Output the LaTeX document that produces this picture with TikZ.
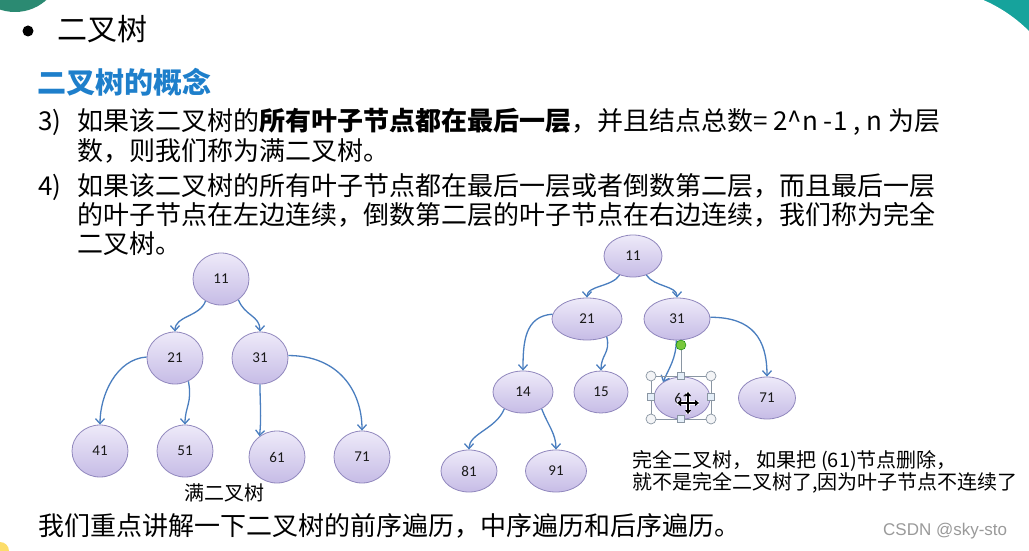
\documentclass[tikz,border=0pt]{standalone}
\usepackage{fontspec}
\setmainfont{Noto Sans CJK SC}
\newfontfamily\numfont{Carlito}
\newfontfamily\csdnfont{Liberation Sans}
\usetikzlibrary{shapes.geometric,arrows.meta}
\definecolor{nodetop}{HTML}{EEEAF9}
\definecolor{nodebot}{HTML}{C6BCE6}
\definecolor{nodeborder}{HTML}{9087BD}
\definecolor{arrowblue}{HTML}{4A7EBF}
\definecolor{subblue}{HTML}{1E7FCB}
\definecolor{tealTL}{HTML}{2B8A72}
\definecolor{tealTR}{HTML}{16A39C}
\definecolor{hgray}{HTML}{8A96A3}
\definecolor{hsq}{HTML}{E4EEF8}
\definecolor{hgreen}{HTML}{78C83C}
\definecolor{csdngray}{HTML}{9A9A9A}
\begin{document}
\begin{tikzpicture}[x=1pt,y=-1pt,
  tn/.style={ellipse, draw=nodeborder, line width=0.8pt, top color=nodetop, bottom color=nodebot,
    inner sep=0pt, font=\numfont\fontsize{15}{17}\selectfont, text=black!90},
  lt/.style={tn, minimum width=56pt, minimum height=52pt},
  rt/.style={tn, minimum height=42pt},
  arr/.style={draw=arrowblue, line width=1.3pt, -{Straight Barb[length=5pt,width=9pt]}},
  txt/.style={anchor=base west, inner sep=0pt},
  body/.style={font=\fontsize{26}{30}\selectfont},
  captext/.style={font=\fontsize{20}{24}\selectfont},
  corner/.style={circle, draw=hgray, fill=white!90!hgray, line width=0.7pt, minimum size=10pt, inner sep=0pt},
  side/.style={rectangle, draw=hgray, fill=hsq, line width=0.7pt, minimum size=7.5pt, inner sep=0pt},
]
\useasboundingbox (0,0) rectangle (1029,551);
\fill[white] (0,0) rectangle (1029,551);
% decorative corners
\begin{scope}
  \clip (0,0) rectangle (1029,551);
  \fill[tealTL] (15,-35) circle (47);
  \fill[tealTR] (900,0) rectangle (1029,100);
  \fill[white] (925,135) circle (147);
  \fill[white] (900,60) rectangle (1029,100);
  \fill[yellow!60!orange, opacity=0.6] (0,551) circle (9);
\end{scope}

% heading and text
\fill[black] (28,31) circle (5.5);
\node[txt, font=\fontsize{30}{32}\selectfont] (head) at (57,41) {二叉树};
\node[txt, font=\bfseries\fontsize{29}{32}\selectfont, text=subblue] (sub) at (37,94) {二叉树的概念};
\node[txt, body] (n3) at (38,130) {3)};
\node[txt, body] (l1) at (77,130) {如果该二叉树的\textbf{所有叶子节点都在最后一层}，并且结点总数= 2\textasciicircum n -1 , n 为层};
\node[txt, body] (l2) at (77,160) {数，则我们称为满二叉树。};
\node[txt, body] (n4) at (38,195) {4)};
\node[txt, body] (l3) at (77,195) {如果该二叉树的所有叶子节点都在最后一层或者倒数第二层，而且最后一层};
\node[txt, body] (l4) at (77,224) {的叶子节点在左边连续，倒数第二层的叶子节点在右边连续，我们称为完全};
\node[txt, body] (l5) at (77,253) {二叉树。};

% left tree (full)
\node[lt] (L11) at (221,279) {11};
\node[lt] (L21) at (175,358) {21};
\node[lt] (L31) at (260,358) {31};
\node[lt] (L41) at (100,451) {41};
\node[lt] (L51) at (185,451) {51};
\node[lt] (L61) at (277,457) {61};
\node[lt] (L71) at (362,457) {71};
\node[anchor=base, inner sep=0pt, captext] (fullcap) at (224,500) {满二叉树};

\draw[arr] (L11.235) .. controls +(-6,16) and +(0,-16) .. (L21.north);
\draw[arr] (L11.310) .. controls +(6,16) and +(0,-16) .. (L31.north);
\draw[arr] (L21.178) .. controls +(-30,2) and +(0,-30) .. (L41.north);
\draw[arr] (L21.300) .. controls +(4,22) and +(0,-18) .. (L51.north);
\draw[arr] (L31.south) .. controls +(0,20) and +(2,-20) .. (L61.130);
\draw[arr] (L31.5) .. controls +(50,0) and +(0,-40) .. (L71.north);

% right tree (complete)
\node[rt, minimum width=58pt] (R11) at (633,256) {11};
\node[rt, minimum width=70pt] (R21) at (587,319) {21};
\node[rt, minimum width=66pt] (R31) at (677,319) {31};
\node[rt, minimum width=60pt] (R14) at (523,392) {14};
\node[rt, minimum width=54pt] (R15) at (601,392) {15};
\node[rt, minimum width=56pt] (R61) at (682,398) {61};
\node[rt, minimum width=57pt] (R71) at (767,398) {71};
\node[rt, minimum width=56pt] (R81) at (469,471) {81};
\node[rt, minimum width=61pt] (R91) at (556,471) {91};

\draw[arr] (R11.235) .. controls +(-8,12) and +(0,-12) .. (R21.north);
\draw[arr] (R11.305) .. controls +(8,12) and +(0,-12) .. (R31.north);
\draw[arr] (R21.172) .. controls +(-28,2) and +(0,-28) .. (R14.north);
\draw[arr] (R21.318) .. controls +(4,16) and +(0,-16) .. (R15.north);
\draw[arr] (R31.268) .. controls +(0,18) and +(6,-14) .. (R61.140);
\draw[arr] (R31.3) .. controls +(42,0) and +(0,-38) .. (R71.north);
\draw[arr] (R14.222) .. controls +(-8,20) and +(0,-16) .. (R81.north);
\draw[arr] (R14.318) .. controls +(6,16) and +(0,-16) .. (R91.north);

% selection handles around 61
\coordinate (rot) at (681,345);
\draw[hgray, line width=0.8pt] (651,376) rectangle (711,419);
\node[side] (hT) at (681,376) {};
\draw[hgray, line width=0.8pt] (rot) -- (hT.north);
\node[circle, draw=green!50!black, fill=hgreen, minimum size=10pt, inner sep=0pt] (hR) at (rot) {};
\node[side] (hB) at (681,419) {};
\node[side] (hL) at (651,397) {};
\node[side] (hRt) at (711,397) {};
\node[corner] (c1) at (651,376) {};
\node[corner] (c2) at (711,376) {};
\node[corner] (c3) at (651,419) {};
\node[corner] (c4) at (711,419) {};
% move cursor
\coordinate (cur) at (688,403);
\draw[white, line width=3.2pt] ([xshift=-11pt]cur) -- ([xshift=11pt]cur) ([yshift=-11pt]cur) -- ([yshift=11pt]cur);
\draw[black, line width=1.3pt, {Triangle[length=4pt,width=6pt]}-{Triangle[length=4pt,width=6pt]}] ([xshift=-11pt]cur) -- ([xshift=11pt]cur);
\draw[black, line width=1.3pt, {Triangle[length=4pt,width=6pt]}-{Triangle[length=4pt,width=6pt]}] ([yshift=-11pt]cur) -- ([yshift=11pt]cur);

% caption for complete tree
\node[txt, captext] (c1l) at (632,467) {完全二叉树，\ 如果把 (61)节点删除，};
\node[txt, captext] (c2l) at (632,489) {就不是完全二叉树了,因为叶子节点不连续了};

% bottom line
\node[txt, body] (bottom) at (38,535) {我们重点讲解一下二叉树的前序遍历，中序遍历和后序遍历。};
\node[txt, font=\csdnfont\fontsize{17}{20}\selectfont, text=csdngray] (csdn) at (883,535) {CSDN @sky-sto};
\end{tikzpicture}
\end{document}
